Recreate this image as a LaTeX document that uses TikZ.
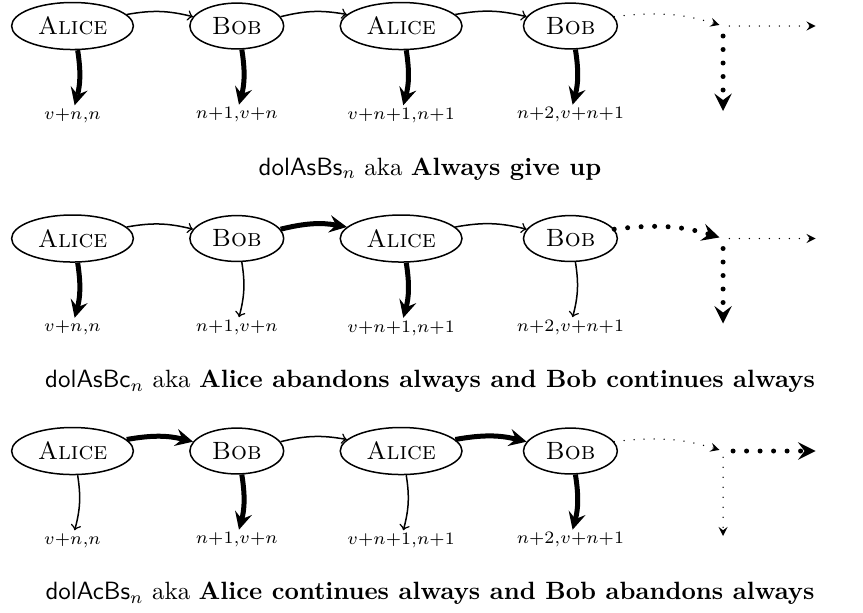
\documentclass[tikz,border=0pt]{standalone}
\usetikzlibrary{shapes.geometric, arrows, positioning}

\newcommand{\pay}[1]{$\scriptstyle #1$}

\begin{document}
\begin{tikzpicture}[
player/.style   ={ellipse, draw, semithick, inner ysep=3pt},
payoff/.style   ={inner sep=1pt},
caption/.style  ={inner sep=0pt, anchor=base},
line/.style     ={draw, semithick, ->},
bold/.style     ={draw, line width=2pt, -stealth},
thin dots/.style={draw, line width=0.6pt, line cap=round, dash pattern=on 0pt off 4pt, -stealth},
bold dots/.style={draw, line width=2pt, line cap=round, dash pattern=on 0pt off 5.4pt, -stealth},
node distance=22pt,
auto,]

\useasboundingbox (-29pt,10.4pt) rectangle (316.2pt,-234.4pt);

% Define the nodes
% dolAsBs
\node[player]                        (al1) at (0,0)  {\textsc{Alice}};
\node[player,   right=of al1]        (bo1)           {\textsc{Bob}};
\node[player,   right=of bo1]        (al2)           {\textsc{Alice}};
\node[player,   right=24pt of al2]   (bo2)           {\textsc{Bob}};
\node[payoff,   below=of al1]        (p1)            {\pay{v+n,n}};
\node[payoff,   below=of bo1]        (p2)            {\pay{n+1,v+n}};
\node[payoff,   below=of al2]        (p3)            {\pay{v+n+1,n+1}};
\node[payoff,   below=of bo2]        (p4)            {\pay{n+2,v+n+1}};
\coordinate[right=42pt of bo2]       (m1);
\coordinate[right=37pt of m1]        (r1);
\coordinate[below=34pt of m1]        (d1);
\node[caption] (t1) at (143pt,-59.6pt) {\textsf{dolAsBs}$_n$ aka \textbf{Always give up}};

% dolAsBc
\node[player]                        (al3) at (0,-85pt) {\textsc{Alice}};
\node[player,   right=of al3]        (bo3)           {\textsc{Bob}};
\node[player,   right=of bo3]        (al4)           {\textsc{Alice}};
\node[player,   right=24pt of al4]   (bo4)           {\textsc{Bob}};
\node[payoff,   below=of al3]        (p5)            {\pay{v+n,n}};
\node[payoff,   below=of bo3]        (p6)            {\pay{n+1,v+n}};
\node[payoff,   below=of al4]        (p7)            {\pay{v+n+1,n+1}};
\node[payoff,   below=of bo4]        (p8)            {\pay{n+2,v+n+1}};
\coordinate[right=42pt of bo4]       (m2);
\coordinate[right=37pt of m2]        (r2);
\coordinate[below=34pt of m2]        (d2);
\node[caption] (t2) at (143pt,-144.6pt) {\textsf{dolAsBc}$_n$ aka \textbf{Alice abandons always and Bob continues always}};

% dolAcBs
\node[player]                        (al5) at (0,-170pt) {\textsc{Alice}};
\node[player,   right=of al5]        (bo5)           {\textsc{Bob}};
\node[player,   right=of bo5]        (al6)           {\textsc{Alice}};
\node[player,   right=24pt of al6]   (bo6)           {\textsc{Bob}};
\node[payoff,   below=of al5]        (p9)            {\pay{v+n,n}};
\node[payoff,   below=of bo5]        (p10)           {\pay{n+1,v+n}};
\node[payoff,   below=of al6]        (p11)           {\pay{v+n+1,n+1}};
\node[payoff,   below=of bo6]        (p12)           {\pay{n+2,v+n+1}};
\coordinate[right=42pt of bo6]       (m3);
\coordinate[right=37pt of m3]        (r3);
\coordinate[below=34pt of m3]        (d3);
\node[caption] (t3) at (143pt,-229.4pt) {\textsf{dolAcBs}$_n$ aka \textbf{Alice continues always and Bob abandons always}};

% Connect the nodes
\path[line] (al1) to[bend left=12] (bo1);
\path[line] (bo1) to[bend left=12] (al2);
\path[line] (al2) to[bend left=12] (bo2);
\path[thin dots, shorten >=1.5pt] (bo2) to[bend left=12] (m1);
\path[thin dots, shorten <=2.5pt] (m1) -- (r1);
\path[bold dots, shorten <=4pt] (m1) -- (d1);
\path[bold] (al1) to[bend left=12] (p1);
\path[bold] (bo1) to[bend left=12] (p2);
\path[bold] (al2) to[bend left=12] (p3);
\path[bold] (bo2) to[bend left=12] (p4);

\path[line] (al3) to[bend left=12] (bo3);
\path[bold] (bo3) to[bend left=12] (al4);
\path[line] (al4) to[bend left=12] (bo4);
\path[bold dots, shorten >=1.5pt] (bo4) to[bend left=12] (m2);
\path[thin dots, shorten <=2.5pt] (m2) -- (r2);
\path[bold dots, shorten <=4pt] (m2) -- (d2);
\path[bold] (al3) to[bend left=12] (p5);
\path[line] (bo3) to[bend left=12] (p6);
\path[bold] (al4) to[bend left=12] (p7);
\path[line] (bo4) to[bend left=12] (p8);

\path[bold] (al5) to[bend left=12] (bo5);
\path[line] (bo5) to[bend left=12] (al6);
\path[bold] (al6) to[bend left=12] (bo6);
\path[thin dots, shorten >=1.5pt] (bo6) to[bend left=12] (m3);
\path[bold dots, shorten <=4pt] (m3) -- (r3);
\path[thin dots, shorten <=2.5pt] (m3) -- (d3);
\path[line] (al5) to[bend left=12] (p9);
\path[bold] (bo5) to[bend left=12] (p10);
\path[line] (al6) to[bend left=12] (p11);
\path[bold] (bo6) to[bend left=12] (p12);

\end{tikzpicture}
\end{document}
